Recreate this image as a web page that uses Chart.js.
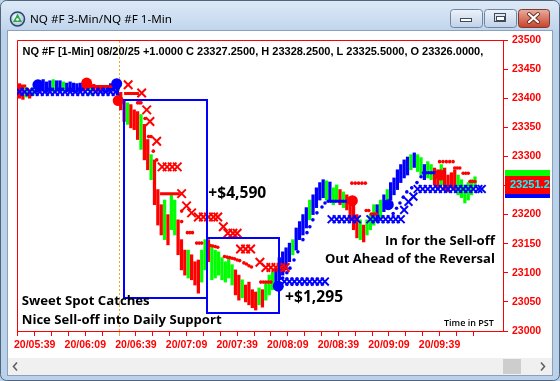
<!DOCTYPE html>
<html>
<head>
<meta charset="utf-8">
<title>NQ #F 3-Min/NQ #F 1-Min</title>
<script src="https://cdn.jsdelivr.net/npm/chart.js@4/dist/chart.umd.min.js"></script>
<style>
  html, body { margin: 0; padding: 0; overflow: hidden; background: #bad1ea; }
  #wrap { position: relative; width: 560px; height: 381px; }
  canvas { display: block; }
</style>
</head>
<body>
<div id="wrap"><canvas id="chart" width="560" height="381"></canvas></div>
<script>
// ---------------- DATA (time = minutes after midnight, PST; price = index points) ----------------
const barTimes = [
  330,332,334,336,338,340,342,344,346,348,
  350,352,354,356,358,360,362,364,366,368,
  370,372,374,376,378,380,382,384,386,388,
  390,392,394,396,398,400,402,404,406,408,
  410,412,414,416,418,420,422,424,426,428,
  430,432,434,436,438,440,442,444,446,448,
  450,452,454,456,458,460,462,464,466,468,
  470,472,474,476,478,480,482,484,486,488,
  490,492,494,496,498,500,502,504,506,508,
  510,512,514,516,518,520,522,524,526,528,
  530,532,534,536,538,540,542,544,546,548,
  550,552,554,556,558,560,562,564,566,568,
  570,572,574,576,578,580,582,584,586,588,
  590,592,594,596,598,600];
const barLows = [
  23400,23398,23402,23400,23405,23410,23412,23412,23410,23412,
  23411,23412,23410,23412,23411,23410,23411,23410,23410,23412,
  23414,23406,23412,23410,23410,23410,23410,23412,23412,23405,
  23380,23360,23355,23349,23346,23329,23312,23294,23277,23260,
  23217,23182,23165,23157,23148,23174,23165,23131,23105,23096,
  23091,23088,23079,23065,23084,23105,23119,23088,23091,23096,
  23088,23084,23091,23079,23062,23053,23057,23050,23045,23040,
  23036,23045,23041,23053,23062,23071,23074,23088,23096,23105,
  23119,23131,23139,23157,23165,23177,23191,23200,23212,23225,
  23229,23225,23222,23217,23225,23217,23212,23208,23191,23174,
  23160,23157,23153,23165,23174,23182,23188,23194,23205,23212,
  23225,23234,23243,23255,23263,23268,23277,23281,23274,23268,
  23260,23263,23260,23251,23243,23251,23243,23239,23246,23243,
  23234,23229,23220,23225,23234,23246];
const barHighs = [
  23425,23420,23418,23415,23418,23428,23430,23432,23428,23430,
  23432,23430,23430,23428,23426,23428,23426,23425,23426,23430,
  23432,23424,23424,23422,23422,23420,23422,23425,23428,23425,
  23410,23398,23392,23389,23380,23377,23372,23355,23329,23303,
  23294,23243,23217,23225,23200,23234,23225,23191,23157,23139,
  23139,23131,23119,23122,23139,23157,23157,23148,23139,23136,
  23126,23119,23126,23114,23105,23096,23088,23079,23084,23071,
  23067,23074,23071,23084,23096,23101,23108,23126,23136,23143,
  23151,23157,23177,23188,23200,23212,23225,23234,23246,23255,
  23260,23258,23256,23246,23251,23243,23239,23234,23225,23217,
  23200,23191,23182,23191,23200,23217,23217,23225,23234,23243,
  23255,23263,23277,23286,23294,23299,23303,23306,23303,23298,
  23286,23291,23286,23280,23277,23286,23280,23268,23272,23277,
  23268,23260,23251,23255,23260,23265];
// bar state: r = down bar, g = up bar, b = long-trend bar
const barKinds = [
  'r','r','g','r','g','b','b','b','b','b',
  'g','b','b','g','b','b','b','b','b','r',
  'r','g','r','r','r','b','b','b','b','b',
  'r','r','g','r','r','r','g','r','r','g',
  'r','r','r','g','r','g','g','r','r','r',
  'g','r','r','r','g','g','r','g','g','g',
  'g','g','g','g','r','r','g','r','r','r',
  'r','g','r','g','g','g','b','b','b','b',
  'b','g','b','b','b','b','g','b','b','b',
  'b','g','b','g','g','r','g','r','r','r',
  'r','g','r','g','g','g','b','g','b','g',
  'b','b','b','b','b','b','g','b','g','g',
  'b','g','g','r','r','g','r','r','r','r',
  'g','g','g','g','g','g'];

// short-side trailing stop dots
const redDotTimes = [400,401,402,404.4,406.5,408,409.3,411.3,426.1,426.1,
  429.5,431,432.5,435,436.5,438,441.5,443,444.5,446,447.5,
  451.5,453,454.5,456,457.5,459,460.5,463,464.5,466,467.5,
  473,474.5,476,477.5,479,
  527,529,531,533,535,535.5,537,538.5,540,541.5,
  579,581,583,585,587,588,589.5,591,593,594.5,596,597,598.5,600];
const redDotPrices = [23392,23392,23392,23365,23334,23334,23309,23294,23206,23188,
  23169,23169,23169,23151,23151,23151,23148,23147,23146,23145,23144,
  23128,23127,23126,23125,23124,23122,23121,23117,23115,23112,23110,
  23084,23084,23084,23084,23084,
  23254,23254,23254,23254,23254,23207,23207,23201,23201,23201,
  23291,23291,23291,23291,23291,23280,23280,23280,23271,23271,23271,23257,23257,23257];

// long-side trailing stop dots
const blueDotTimes = [486,488.5,490.3,492.7,495,498,500.4,502.1,503.9,506.3,
  509.3,511.1,513,514.5,516,517.5,519,520.5,522,523.5,
  551.5,553.5,555.5,557.5,559.6,562.5,565.6,568,569.5,571,
  572.5,574,575.5,577,578.5,580,581.5];
const blueDotPrices = [23091,23100,23108,23122,23136,23157,23169,23179,23191,23203,
  23213,23220,23223,23223,23223,23223,23223,23223,23223,23223,
  23202,23211,23220,23230,23239,23246,23255,23265,23272,23272,
  23272,23272,23272,23272,23272,23272,23272];

// short stop levels (X marks)
const redXTimes = [394.4,402.4,405.4,407.3,411.3,414.5,417.5,420.5,423.5,426.1,429,432,
  436,439,442,445,447.5,450.8,453.5,456.5,459,461,464,467,472.5,476,479,482,485,487.5];
const redXPrices = [23423,23409,23380,23360,23326,23282,23282,23282,23282,23236,23215,23203,
  23196,23196,23196,23196,23196,23179,23168,23168,23168,23141,23141,23141,23118,23109,23109,23109,23109,23109];

// long stop levels (X marks)
const blueXTimes = [330,333,336,339,342,345,348,351,354,357,360,363,366,369,372,375,378,381,384,387,
  487,490,493,496,499,502,505,508,511,
  515,518,521,524,527,530,
  538,541,544,547,550,553,556,
  558,560.6,563.5,
  566,569,572,575,578,581,584,587,590,593,596,599,602,604];
const blueXPrices = [23411,23411,23411,23411,23411,23411,23411,23411,23411,23411,
  23411,23411,23411,23411,23411,23411,23411,23411,23411,23411,
  23085,23085,23085,23085,23085,23085,23085,23085,23085,
  23192,23192,23192,23192,23192,23192,
  23192,23192,23192,23192,23192,23192,23192,
  23208,23222,23231,
  23244,23244,23244,23244,23244,23244,23244,23244,23244,23244,23244,23244,23244,23244];

// short stop line segments
const redLineStarts = [330, 370, 392, 413.3];
const redLineEnds   = [334, 388, 400.8, 425];
const redLinePrices = [23421, 23420, 23408, 23236];

// entries (large dots)
const blueEntryTimes  = [340.9, 387.6, 483.4, 548.6];
const blueEntryPrices = [23423, 23425, 23077, 23217];
const redEntryTimes   = [369.8, 388.5, 527.3, 579.5];
const redEntryPrices  = [23426, 23396, 23224, 23268];

// axis ticks
const xTickTimes  = [329,339,349,359,369,379,389,399,409,419,429,439,449,459,469,479,489,499,509,519,529,539,549,559,569,579,589,599];
const xLabelTimes = [339, 369, 399, 429, 459, 489, 519, 549, 579];
const xLabels     = ['20/05:39','20/06:09','20/06:39','20/07:09','20/07:39','20/08:09','20/08:39','20/09:09','20/09:39'];
const yTickValues = [23000,23050,23100,23150,23200,23250,23300,23350,23400,23450,23500];
const yTickLabels = ['23000','23050','23100','23150','23200','23250','23300','23350','23400','23450','23500'];
const sessionDividerTime = 389;

// right-axis price flags: [green, blue, red(last)]
const flagPrices = [23262, 23244, 23251.25];
const lastPriceLabel = '23251.25';

// annotation boxes (trade windows)
const boxStartTimes = [391.9, 441.3];
const boxEndTimes   = [441.3, 484.0];
const boxLowPrices  = [23056.8, 23030.5];
const boxHighPrices = [23397.6, 23159.6];

// annotation texts
const noteTexts  = ['+$4,590', '+$1,295', 'Sweet Spot Catches', 'Nice Sell-off into Daily Support',
                    'In for the Sell-off', 'Out Ahead of the Reversal', 'Time in PST'];
const noteTimes  = [441.9, 487.4, 331.3, 331.3, 611.8, 611.8, 611.2];
const notePrices = [23237, 23057, 23051.5, 23019, 23154.6, 23123.7, 23013.7];

const headerText = 'NQ #F [1-Min] 08/20/25 +1.0000 C 23327.2500, H 23328.2500, L 23325.5000, O 23326.0000, V';
const titleText = 'NQ #F 3-Min/NQ #F 1-Min';

// ---------------- DRAWING ----------------
const kindColor = { r: '#ff0000', g: '#00ff00', b: '#0000ff' };
const zip = (ts, ps) => ts.map((t, i) => ({ x: t, y: ps[i] }));
const AXIS_FONT = { family: '"Liberation Sans", Arial, sans-serif', weight: 'bold', size: 10.5 };

function rr(ctx, x, y, w, h, r) {
  ctx.beginPath();
  ctx.moveTo(x + r, y);
  ctx.arcTo(x + w, y, x + w, y + h, r);
  ctx.arcTo(x + w, y + h, x, y + h, r);
  ctx.arcTo(x, y + h, x, y, r);
  ctx.arcTo(x, y, x + w, y, r);
  ctx.closePath();
}
function fitFont(ctx, text, weight, family, target) {
  ctx.font = weight + ' 20px ' + family;
  const w = ctx.measureText(text).width;
  return weight + ' ' + (20 * target / w).toFixed(2) + 'px ' + family;
}

const chromePlugin = {
  id: 'chrome',
  beforeDraw(chart) {
    const ctx = chart.ctx, W = chart.width, H = chart.height;
    ctx.save();
    ctx.fillStyle = '#bad1ea';
    ctx.fillRect(0, 0, W, H);
    const g = ctx.createLinearGradient(0, 0, 0, 31);
    g.addColorStop(0, '#dde9f6'); g.addColorStop(0.5, '#d0e0f2'); g.addColorStop(1, '#bfd4ec');
    ctx.fillStyle = g;
    ctx.fillRect(1, 1, W - 2, 30);
    ctx.strokeStyle = '#52657d'; ctx.lineWidth = 1;
    rr(ctx, 0.5, 0.5, W - 1, H - 1, 6); ctx.stroke();
    // client area
    ctx.fillStyle = '#ffffff';
    ctx.fillRect(8, 31, 544, 344);
    ctx.strokeStyle = '#8aa0bb';
    ctx.strokeRect(7.5, 30.5, 545, 345);
    // horizontal scrollbar
    ctx.fillStyle = '#f0f0f0';
    ctx.fillRect(8, 358, 544, 17);
    ctx.fillStyle = '#cdcdcd';
    ctx.fillRect(503, 359, 18, 15);
    ctx.strokeStyle = '#606060'; ctx.lineWidth = 1.6;
    ctx.beginPath(); ctx.moveTo(17, 362.5); ctx.lineTo(13.5, 366.5); ctx.lineTo(17, 370.5); ctx.stroke();
    ctx.beginPath(); ctx.moveTo(541, 362.5); ctx.lineTo(544.5, 366.5); ctx.lineTo(541, 370.5); ctx.stroke();
    // icon
    const ig = ctx.createRadialGradient(16, 17, 1, 17.5, 19, 8);
    ig.addColorStop(0, '#ffffff'); ig.addColorStop(1, '#9fb6d6');
    ctx.beginPath(); ctx.arc(17.5, 19, 7, 0, Math.PI * 2);
    ctx.fillStyle = ig; ctx.fill();
    ctx.lineWidth = 1.5; ctx.strokeStyle = '#27456f'; ctx.stroke();
    ctx.beginPath(); ctx.moveTo(17.5, 13.5); ctx.lineTo(13, 22); ctx.lineTo(22, 22); ctx.closePath();
    ctx.fillStyle = '#2fa84a'; ctx.fill();
    ctx.beginPath(); ctx.arc(17.5, 19.5, 1.3, 0, Math.PI * 2); ctx.fillStyle = '#ffffff'; ctx.fill();
    // title
    ctx.fillStyle = '#000000';
    ctx.font = fitFont(ctx, titleText, '400', '"Noto Sans", "DejaVu Sans", sans-serif', 142);
    ctx.textBaseline = 'middle'; ctx.textAlign = 'left';
    ctx.fillText(titleText, 30, 19.5);
    // caption buttons
    ctx.lineWidth = 1;
    const btn = (x, y, w, h, c1, c2, border) => {
      const bg = ctx.createLinearGradient(0, y, 0, y + h);
      bg.addColorStop(0, c1); bg.addColorStop(1, c2);
      rr(ctx, x + 0.5, y + 0.5, w, h, 3);
      ctx.fillStyle = bg; ctx.fill();
      ctx.strokeStyle = border; ctx.stroke();
    };
    btn(450, 9, 32, 18, '#eef3fa', '#c1d2e7', '#6f85a4');
    btn(484, 9, 32, 18, '#eef3fa', '#c1d2e7', '#6f85a4');
    btn(518, 9, 31, 18, '#eab0a3', '#c8442c', '#7e3a2e');
    // minimize glyph
    ctx.fillStyle = '#ffffff'; ctx.strokeStyle = '#3b4a5e';
    ctx.fillRect(460.5, 18.5, 11, 3); ctx.strokeRect(460.5, 18.5, 11, 3);
    // maximize glyph
    ctx.strokeRect(494.5, 13.5, 11, 8);
    ctx.fillStyle = '#ffffff'; ctx.fillRect(496, 16, 8, 4.5);
    ctx.strokeStyle = '#3b4a5e'; ctx.strokeRect(496.5, 16.5, 8, 4);
    // close glyph
    ctx.lineCap = 'round';
    ctx.strokeStyle = '#6b2a20'; ctx.lineWidth = 4;
    ctx.beginPath(); ctx.moveTo(529, 14); ctx.lineTo(538, 22); ctx.moveTo(538, 14); ctx.lineTo(529, 22); ctx.stroke();
    ctx.strokeStyle = '#ffffff'; ctx.lineWidth = 2.2;
    ctx.beginPath(); ctx.moveTo(529, 14); ctx.lineTo(538, 22); ctx.moveTo(538, 14); ctx.lineTo(529, 22); ctx.stroke();
    ctx.restore();
  },
  beforeDatasetsDraw(chart) {
    const ctx = chart.ctx, a = chart.chartArea, xs = chart.scales.x;
    ctx.save();
    // plot frame (top & left; bottom & right come from axes)
    ctx.strokeStyle = '#ff0000'; ctx.lineWidth = 1;
    ctx.beginPath();
    ctx.moveTo(Math.round(a.left) + 0.5, Math.round(a.bottom));
    ctx.lineTo(Math.round(a.left) + 0.5, Math.round(a.top) + 0.5);
    ctx.lineTo(Math.round(a.right), Math.round(a.top) + 0.5);
    ctx.stroke();
    // session divider
    const xd = Math.round(xs.getPixelForValue(sessionDividerTime)) + 0.5;
    ctx.strokeStyle = '#f5a623'; ctx.setLineDash([2, 2]);
    ctx.beginPath(); ctx.moveTo(xd, a.top + 1); ctx.lineTo(xd, a.bottom + 5); ctx.stroke();
    ctx.setLineDash([]);
    // header
    ctx.save();
    ctx.beginPath(); ctx.rect(a.left, a.top, 468, 25); ctx.clip();
    ctx.fillStyle = '#000000';
    ctx.font = 'bold 11px "Liberation Sans", Arial, sans-serif';
    ctx.textBaseline = 'middle'; ctx.textAlign = 'left';
    ctx.fillText(headerText, a.left + 5.5, a.top + 11.5);
    ctx.restore();
    ctx.restore();
  },
  afterDatasetsDraw(chart) {
    const ctx = chart.ctx, xs = chart.scales.x, ys = chart.scales.y;
    ctx.save();
    // trade-window boxes
    ctx.strokeStyle = '#0000ff'; ctx.lineWidth = 2;
    for (let i = 0; i < boxStartTimes.length; i++) {
      const x1 = xs.getPixelForValue(boxStartTimes[i]), x2 = xs.getPixelForValue(boxEndTimes[i]);
      const y1 = ys.getPixelForValue(boxHighPrices[i]), y2 = ys.getPixelForValue(boxLowPrices[i]);
      ctx.strokeRect(Math.round(x1), Math.round(y1), Math.round(x2 - x1), Math.round(y2 - y1));
    }
    // notes
    const fam = '"Open Sans", "Noto Sans", sans-serif';
    const noteStyle = [
      ['left', 'bold', 58], ['left', 'bold', 58], ['left', 'bold', 128], ['left', 'bold', 200],
      ['right', 'bold', 110], ['right', 'bold', 170], ['right', '600', 50]
    ];
    ctx.fillStyle = '#000000'; ctx.textBaseline = 'middle';
    for (let i = 0; i < noteTexts.length; i++) {
      const [align, wt, w] = noteStyle[i];
      ctx.font = fitFont(ctx, noteTexts[i], wt, fam, w);
      ctx.textAlign = align;
      ctx.fillText(noteTexts[i], xs.getPixelForValue(noteTimes[i]), ys.getPixelForValue(notePrices[i]));
    }
    ctx.restore();
  },
  afterDraw(chart) {
    const ctx = chart.ctx, ys = chart.scales.y, a = chart.chartArea;
    ctx.save();
    const flagColors = ['#00ff00', '#0000ff', '#ff0000'];
    const x0 = a.right + 2, w = 45, h = 18;
    for (let i = 0; i < flagPrices.length; i++) {
      const y = ys.getPixelForValue(flagPrices[i]);
      ctx.fillStyle = flagColors[i];
      ctx.fillRect(x0, Math.round(y - h / 2), w, h);
    }
    const yr = ys.getPixelForValue(flagPrices[2]);
    ctx.beginPath(); ctx.rect(x0, Math.round(yr - h / 2), w, h); ctx.clip();
    ctx.fillStyle = '#00ffff';
    ctx.font = 'bold 11px "Liberation Sans", Arial, sans-serif';
    ctx.textBaseline = 'middle'; ctx.textAlign = 'left';
    ctx.fillText(lastPriceLabel, x0 + 5, yr + 0.5);
    ctx.restore();
  }
};

const redLineData = [];
for (let i = 0; i < redLineStarts.length; i++) {
  redLineData.push({ x: redLineStarts[i], y: redLinePrices[i] });
  redLineData.push({ x: redLineEnds[i], y: redLinePrices[i] });
  redLineData.push({ x: redLineEnds[i] + 0.01, y: null });
}

new Chart(document.getElementById('chart'), {
  type: 'scatter',
  data: {
    datasets: [
      { type: 'bar', label: '1-Min bars',
        data: barTimes.map((t, i) => ({ x: t, y: [barLows[i], barHighs[i]] })),
        backgroundColor: barKinds.map(k => kindColor[k]),
        borderWidth: 0, barThickness: 2.6, grouped: false, order: 10 },
      { type: 'line', label: 'Short stop lines', data: redLineData,
        borderColor: '#ff0000', borderWidth: 3, pointRadius: 0, spanGaps: false, order: 8 },
      { type: 'scatter', label: 'Short stop', data: zip(redDotTimes, redDotPrices),
        pointStyle: 'circle', pointRadius: 1.8, pointBackgroundColor: '#ff0000', pointBorderWidth: 0, order: 7 },
      { type: 'scatter', label: 'Long stop', data: zip(blueDotTimes, blueDotPrices),
        pointStyle: 'circle', pointRadius: 1.8, pointBackgroundColor: '#0000ff', pointBorderWidth: 0, order: 7 },
      { type: 'scatter', label: 'Short stop X', data: zip(redXTimes, redXPrices),
        pointStyle: 'crossRot', pointRadius: 6, pointBorderColor: '#ff0000', pointBorderWidth: 2, order: 5 },
      { type: 'scatter', label: 'Long stop X', data: zip(blueXTimes, blueXPrices),
        pointStyle: 'crossRot', pointRadius: 5.5, pointBorderColor: '#0000ff', pointBorderWidth: 2, order: 5 },
      { type: 'scatter', label: 'Long entry', data: zip(blueEntryTimes, blueEntryPrices),
        pointStyle: 'circle', pointRadius: 5.5, pointBackgroundColor: '#0000ff', pointBorderWidth: 0, order: 1 },
      { type: 'scatter', label: 'Short entry', data: zip(redEntryTimes, redEntryPrices),
        pointStyle: 'circle', pointRadius: 5.5, pointBackgroundColor: '#ff0000', pointBorderWidth: 0, order: 1 }
    ]
  },
  options: {
    responsive: false, animation: false, devicePixelRatio: 1,
    layout: { padding: { left: 17, top: 40, right: 0, bottom: 0 } },
    plugins: { legend: { display: false }, tooltip: { enabled: false } },
    scales: {
      x: {
        type: 'linear', position: 'bottom', min: 328.5, max: 616.6, offset: false,
        afterBuildTicks: s => { s.ticks = xTickTimes.map(v => ({ value: v })); },
        afterFit: s => { s.height = 50; },
        ticks: {
          autoSkip: false, maxRotation: 0, minRotation: 0, padding: 3, color: '#ff0000', font: AXIS_FONT,
          callback: v => { const i = xLabelTimes.indexOf(v); return i >= 0 ? xLabels[i] : ''; }
        },
        grid: { drawOnChartArea: false, drawTicks: true, tickLength: 5, offset: false,
          color: c => (c.tick && c.tick.value === sessionDividerTime) ? '#f5a623' : '#ff0000' },
        border: { display: true, color: '#ff0000', width: 1 }
      },
      y: {
        type: 'linear', position: 'right', min: 23000, max: 23500,
        afterBuildTicks: s => { s.ticks = yTickValues.map(v => ({ value: v })); },
        afterFit: s => { s.width = 57; },
        ticks: { padding: 4, color: '#ff0000', font: AXIS_FONT,
          callback: v => yTickLabels[yTickValues.indexOf(v)] },
        grid: { drawOnChartArea: false, drawTicks: true, tickLength: 5, color: '#ff0000' },
        border: { display: true, color: '#ff0000', width: 1 }
      }
    }
  },
  plugins: [chromePlugin]
});
</script>
</body>
</html>
